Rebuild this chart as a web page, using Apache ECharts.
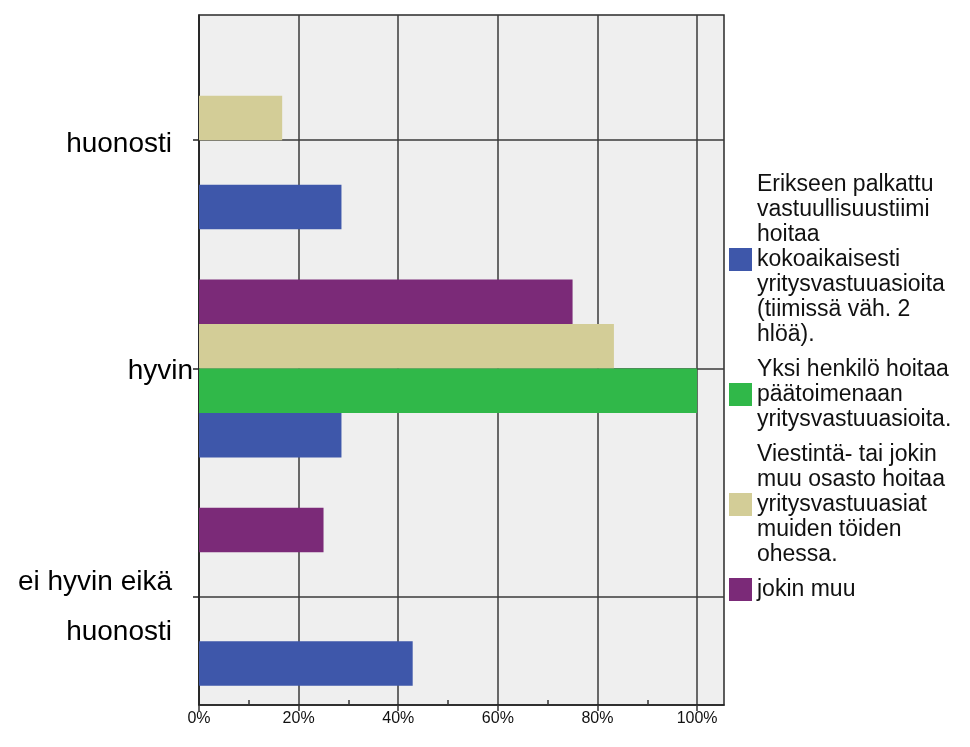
<!DOCTYPE html>
<html>
<head>
<meta charset="utf-8">
<script src="https://cdn.jsdelivr.net/npm/echarts@6/dist/echarts.min.js"></script>
<style>
  html, body { margin: 0; padding: 0; background: #ffffff; }
  #chart { width: 970px; height: 747px; }
</style>
</head>
<body>
<div id="chart"></div>
<script>
// Answer categories (top to bottom)
const categories = ['huonosti', 'hyvin', 'ei hyvin eikä\nhuonosti'];

// Series (organisation of responsibility work), in legend order
const seriesNames = [
  'Erikseen palkattu\nvastuullisuustiimi\nhoitaa\nkokoaikaisesti\nyritysvastuuasioita\n(tiimissä väh. 2\nhlöä).',
  'Yksi henkilö hoitaa\npäätoimenaan\nyritysvastuuasioita.',
  'Viestintä- tai jokin\nmuu osasto hoitaa\nyritysvastuuasiat\nmuiden töiden\nohessa.',
  'jokin muu'
];

// Percentages per category
const tiimi = [28.6, 28.6, 42.9];
const yksiHenkilo = [0, 100, 0];
const osasto = [16.7, 83.3, 0];
const jokinMuu = [0, 75, 25];

// Axis ticks
const tickValues = [0, 20, 40, 60, 80, 100];
const minorTickValues = [10, 30, 50, 70, 90];

const seriesColors = ['#3e57aa', '#30b849', '#d3cd97', '#7b2a78'];
const seriesData = [tiimi, yksiHenkilo, osasto, jokinMuu];

const FONT = '"Liberation Sans", Arial, sans-serif';
const X_MAX = 105.4;

// Category label styles: each label sits a little below its tick
const labelBase = { fontSize: 28, fontFamily: FONT, color: '#000', lineHeight: 50 };
function categoryLabel(v) {
  if (v === 'hyvin') return '{mid|hyvin}';
  const lines = v.split('\n');
  if (lines.length === 1) return '{top|' + v + '}';
  return '{first|' + lines[0] + '}\n{second|' + lines[1] + '}';
}

const chart = echarts.init(document.getElementById('chart'), null, { renderer: 'canvas' });

// Grid 0 holds the bars and the category axis; grid 1 holds the frame and the percent axis.
const option = {
  animation: false,
  backgroundColor: '#ffffff',
  grid: [{
    left: 199, top: 26, width: 525, height: 685,
    show: false, containLabel: false, outerBoundsMode: 'none'
  }, {
    left: 199, top: 15, width: 525, height: 690,
    show: true, backgroundColor: '#efefef',
    borderColor: '#2a2a2a', borderWidth: 1.5,
    containLabel: false, outerBoundsMode: 'none'
  }],
  legend: {
    orient: 'vertical',
    left: 729, top: 172, padding: 0,
    itemGap: 10, itemWidth: 23, itemHeight: 23,
    icon: 'rect', selectedMode: false,
    data: seriesNames,
    textStyle: { fontSize: 23, lineHeight: 25, color: '#111', fontFamily: FONT }
  },
  xAxis: [{
    gridIndex: 0, type: 'value', min: 0, max: X_MAX, show: false
  }, {
    gridIndex: 1, type: 'value', min: 0, max: X_MAX, interval: 20,
    axisLine: { show: true, lineStyle: { color: '#222', width: 1.5 } },
    axisTick: { show: true, length: 6, customValues: tickValues, lineStyle: { color: '#333', width: 1.5 } },
    axisLabel: {
      customValues: tickValues,
      formatter: v => v + '%',
      fontSize: 16, color: '#111', margin: 6, fontFamily: FONT
    },
    splitLine: { show: true, lineStyle: { color: '#3a3a3a', width: 1.5 } }
  }, {
    gridIndex: 1, type: 'value', min: 0, max: X_MAX, interval: 20, position: 'bottom',
    axisLine: { show: false },
    axisLabel: { show: false },
    splitLine: { show: false },
    axisTick: { show: true, inside: true, length: 5, customValues: minorTickValues, lineStyle: { color: '#333', width: 1.5 } }
  }],
  yAxis: [{
    gridIndex: 0, type: 'category', inverse: true, data: categories,
    axisLine: { show: false },
    axisTick: { show: true, alignWithLabel: true, length: 6, lineStyle: { color: '#222', width: 1.5 } },
    splitLine: { show: true, alignWithLabel: true, lineStyle: { color: '#3a3a3a', width: 1.5 } },
    axisLabel: {
      margin: 6, align: 'right', color: '#000',
      formatter: categoryLabel,
      rich: {
        mid: Object.assign({}, labelBase, { padding: [6, 0, 0, 0] }),
        top: Object.assign({}, labelBase, { padding: [8, 21, 0, 0] }),
        first: Object.assign({}, labelBase, { padding: [20, 21, 0, 0] }),
        second: Object.assign({}, labelBase, { padding: [20, 21, 0, 0] })
      }
    }
  }, {
    gridIndex: 1, type: 'value', min: 0, max: 1,
    axisLine: { show: true, onZero: false, lineStyle: { color: '#222', width: 1.5 } },
    axisTick: { show: false }, axisLabel: { show: false }, splitLine: { show: false }
  }],
  // Drawn top-to-bottom inside each group: jokin muu, osasto, yksi henkilö, tiimi
  series: [3, 2, 1, 0].map(i => ({
    name: seriesNames[i],
    type: 'bar',
    xAxisIndex: 0, yAxisIndex: 0,
    data: seriesData[i],
    barWidth: 44.5,
    barGap: '0%',
    itemStyle: { color: seriesColors[i] }
  }))
};

chart.setOption(option);
</script>
</body>
</html>
